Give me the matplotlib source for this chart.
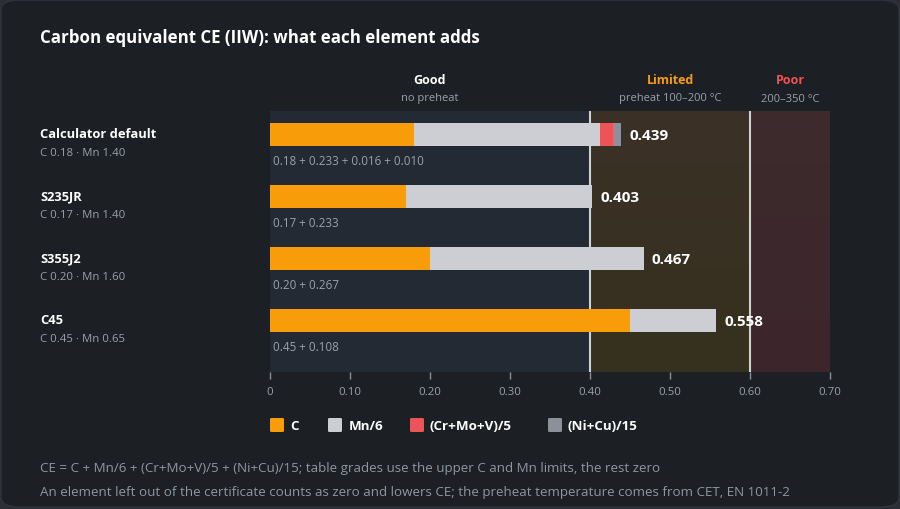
import matplotlib
matplotlib.use("Agg")
import matplotlib.pyplot as plt
import numpy as np
from matplotlib.patches import FancyBboxPatch
from matplotlib.colors import LinearSegmentedColormap

plt.rcParams['font.family'] = ['Open Sans', 'DejaVu Sans']

# ---- data ----
grades = ["Calculator default", "S235JR", "S355J2", "C45"]
compositions = ["C 0.18 · Mn 1.40", "C 0.17 · Mn 1.40", "C 0.20 · Mn 1.60", "C 0.45 · Mn 0.65"]
c_part = [0.18, 0.17, 0.20, 0.45]
mn_part = [0.233, 0.233, 0.267, 0.108]
cr_part = [0.016, 0.0, 0.0, 0.0]
ni_part = [0.010, 0.0, 0.0, 0.0]
totals = [0.439, 0.403, 0.467, 0.558]
breakdowns = ["0.18 + 0.233 + 0.016 + 0.010", "0.17 + 0.233", "0.20 + 0.267", "0.45 + 0.108"]
series_names = ["C", "Mn/6", "(Cr+Mo+V)/5", "(Ni+Cu)/15"]
zone_edges = [0.0, 0.40, 0.60, 0.70]
zone_names = ["Good", "Limited", "Poor"]
zone_notes = ["no preheat", "preheat 100–200 °C", "200–350 °C"]
xticks = [0, 0.10, 0.20, 0.30, 0.40, 0.50, 0.60, 0.70]
xtick_labels = ["0", "0.10", "0.20", "0.30", "0.40", "0.50", "0.60", "0.70"]
footer = ["CE = C + Mn/6 + (Cr+Mo+V)/5 + (Ni+Cu)/15; table grades use the upper C and Mn limits, the rest zero",
          "An element left out of the certificate counts as zero and lowers CE; the preheat temperature comes from CET, EN 1011-2"]

# ---- style ----
W, H = 900, 510
BG_OUT = "#2b2f35"
CARD = "#1c1f24"
series_colors = ["#f99c0a", "#cdced3", "#ec5458", "#8b9099"]
zone_top = ["#232a33", "#3b3027", "#3d2b2c"]
zone_bot = ["#232a33", "#36301e", "#3c262d"]
zone_title_colors = ["#ffffff", "#f99c0a", "#ec5458"]
GREY = "#9aa1ab"

fig = plt.figure(figsize=(W / 100, H / 100), dpi=100)
fig.patch.set_facecolor(BG_OUT)
card = FancyBboxPatch((1 / W, 2 / H), 1 - 2 / W, 1 - 3 / H,
                      boxstyle="round,pad=0,rounding_size=0.02",
                      transform=fig.transFigure, facecolor=CARD,
                      edgecolor="#30343b", linewidth=1, zorder=-5)
fig.patches.append(card)

def fx(px):
    return px / W

def fy(py):
    return 1 - py / H

ax_left, ax_right, ax_top, ax_bot = 270, 830, 112, 373
ax = fig.add_axes([fx(ax_left), fy(ax_bot), fx(ax_right - ax_left), (ax_bot - ax_top) / H])
ax.set_facecolor("none")
ax.set_zorder(2)
row_px = 62
first_center = 135.5
ax.set_xlim(0, 0.70)
y_lo = (ax_bot - first_center) / row_px
y_hi = (ax_top - first_center) / row_px

grad = np.linspace(0, 1, 64).reshape(-1, 1)
for i in range(3):
    cmap = LinearSegmentedColormap.from_list(f"z{i}", [zone_top[i], zone_bot[i]])
    ax.imshow(grad, cmap=cmap, aspect="auto", origin="upper",
              extent=(zone_edges[i], zone_edges[i + 1], y_lo, y_hi), zorder=0)
ax.set_xlim(0, 0.70)
ax.set_ylim(y_lo, y_hi)
for xv in (0.40, 0.60):
    ax.axvline(xv, color="#cfd0d4", lw=1.5, zorder=1)

ys = list(range(len(grades)))
bar_h = 23 / row_px
left = [0.0] * len(grades)
for vals, col in zip([c_part, mn_part, cr_part, ni_part], series_colors):
    ax.barh(ys, vals, left=left, height=bar_h, color=col, lw=0, zorder=3)
    left = [l + v for l, v in zip(left, vals)]

for i, y in enumerate(ys):
    ax.annotate(f"{totals[i]:.3f}", xy=(totals[i], y), xytext=(6, 0),
                textcoords="offset points", va="center", ha="left",
                color="white", fontsize=11, fontweight="bold", zorder=5)
    ax.annotate(breakdowns[i], xy=(0, y + 26 / row_px), xytext=(2, 0),
                textcoords="offset points", va="center", ha="left",
                color=GREY, fontsize=8.4, zorder=5)

for s in ax.spines.values():
    s.set_visible(False)
ax.set_yticks([])
ax.set_xticks(xticks)
ax.set_xticklabels(xtick_labels)
ax.tick_params(axis="x", colors="#8b9099", length=5, width=1, pad=5, labelsize=8.2, labelcolor=GREY)

# left labels
for i in range(len(grades)):
    yc = first_center + i * row_px
    fig.text(fx(40), fy(yc - 1), grades[i], color="white", fontsize=9.3, fontweight="bold", va="center", ha="left")
    fig.text(fx(40), fy(yc + 18), compositions[i], color=GREY, fontsize=8.2, va="center", ha="left")

# zone headers
for i in range(3):
    xc = (zone_edges[i] + zone_edges[i + 1]) / 2
    xpx = ax_left + xc / 0.70 * (ax_right - ax_left)
    fig.text(fx(xpx), fy(81), zone_names[i], color=zone_title_colors[i], fontsize=9, fontweight="bold", ha="center", va="center")
    fig.text(fx(xpx), fy(99), zone_notes[i], color=GREY, fontsize=8, ha="center", va="center")

# title
fig.text(fx(40), fy(38), "Carbon equivalent CE (IIW): what each element adds", color="white",
         fontsize=12.2, fontweight="bold", ha="left", va="center")

# legend
leg_items = [(270, 290), (328, 349), (410, 430), (548, 568)]
for (sq, tx), name, col in zip(leg_items, series_names, series_colors):
    fig.patches.append(FancyBboxPatch((fx(sq), fy(433)), 14 / W, 14 / H,
                                      boxstyle="round,pad=0,rounding_size=0.002",
                                      transform=fig.transFigure, facecolor=col, lw=0))
    fig.text(fx(tx), fy(427), name, color="white", fontsize=9.6, fontweight="bold", ha="left", va="center")

# footer
fig.text(fx(40), fy(469), footer[0], color="#8f97a1", fontsize=9.6, ha="left", va="center")
fig.text(fx(40), fy(493), footer[1], color="#8f97a1", fontsize=9.6, ha="left", va="center")

fig.savefig("out.png", dpi=100, facecolor=fig.get_facecolor())
